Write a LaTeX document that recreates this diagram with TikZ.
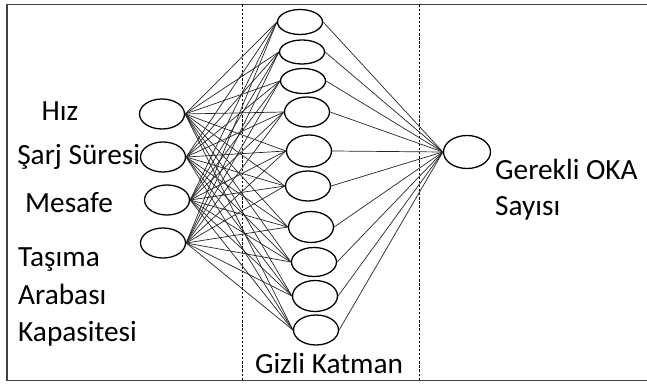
\documentclass[tikz,border=0pt]{standalone}
\usepackage{fontspec}
\setmainfont{Carlito}
\usepackage{xcolor}
\usepackage{tikz}
\usetikzlibrary{shapes.geometric}

\tikzset{
	neuron/.style={draw, line width=1.1pt, ellipse, inner sep=0pt, minimum width=1.35cm, minimum height=0.9cm},
	link/.style={black!85, line width=0.6pt},
	label/.style={font=\fontsize{25}{31}\selectfont, inner sep=0pt}
}

\begin{document}
\begin{tikzpicture}
	\useasboundingbox (0,0) rectangle (19.41,11.49);
	% frame and layer separators
	\draw[black!75, line width=1.2pt] (19.41,11.355) -- (0.21,11.355) -- (0.21,0.075) -- (19.41,0.075);
	\draw[dashed, dash pattern=on 2pt off 1.5pt, line width=0.6pt] (7.26,11.355) -- (7.26,0.075);
	\draw[dashed, dash pattern=on 2pt off 1.5pt, line width=0.6pt] (12.57,11.355) -- (12.57,0.075);
	% input layer
	\node[neuron] (in1) at (4.86,8.07) {};
	\node[neuron] (in2) at (4.89,6.78) {};
	\node[neuron] (in3) at (5.01,5.49) {};
	\node[neuron] (in4) at (4.89,4.20) {};
	% hidden layer
	\foreach \n/\x/\y/\h in {1/9.00/10.83/0.75, 2/9.06/9.93/0.72, 3/9.09/9.06/0.75, 4/9.21/8.13/0.90,
		5/9.27/6.96/0.96, 6/9.24/5.91/0.90, 7/9.33/4.68/0.93, 8/9.42/3.63/0.87, 9/9.45/2.61/0.93, 10/9.48/1.59/0.90}
		\node[neuron, minimum height=\h cm] (h\n) at (\x,\y) {};
	% output layer
	\node[neuron, minimum width=1.41cm, minimum height=0.99cm] (out) at (14.01,6.93) {};
	% weights
	\foreach \i in {1,...,4}
		\foreach \j in {1,...,10}
			\draw[link] (in\i.east) -- (h\j.west);
	\foreach \j in {1,...,10}
		\draw[link] (h\j.east) -- (out.west);
	% texts
	\node[label] (tHiz) at (1.80,8.16) {Hız};
	\node[label] (tSarj) at (2.36,6.78) {Şarj Süresi};
	\node[label] (tMesafe) at (2.07,5.40) {Mesafe};
	\node[label, anchor=west, align=left, font=\fontsize{25}{32.4}\selectfont] (tTasima) at (0.54,2.58) {Taşıma\\Arabası\\Kapasitesi};
	\node[label] (tGizli) at (9.87,0.60) {Gizli Katman};
	\node[label, anchor=west, align=left, font=\fontsize{25}{31.5}\selectfont] (tOKA) at (14.85,5.80) {Gerekli OKA\\Sayısı};
\end{tikzpicture}
\end{document}
